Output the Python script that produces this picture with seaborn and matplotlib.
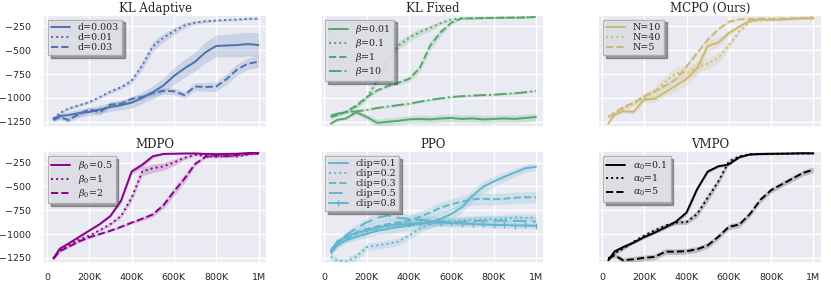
import matplotlib
matplotlib.use("Agg")
import matplotlib.pyplot as plt
import seaborn as sns

# training steps (in thousands)
steps_k = [30, 60, 100, 150, 200, 250, 300, 350, 400, 450, 500,
           550, 600, 650, 700, 750, 800, 850, 900, 950, 1000]

# ---- KL Adaptive ----
kla_labels = ["d=0.003", "d=0.01", "d=0.03"]
kla_d0003 = [-1216, -1190, -1180, -1160, -1147, -1120, -1095, -1075, -1050, -1000, -940,
             -870, -770, -690, -620, -520, -455, -450, -445, -435, -445]
kla_d001 = [-1216, -1160, -1112, -1078, -1043, -990, -933, -888, -820, -660, -460,
            -370, -300, -240, -210, -195, -188, -182, -178, -170, -168]
kla_d003 = [-1233, -1200, -1233, -1170, -1120, -1150, -1070, -1060, -1010, -990, -950,
            -925, -930, -970, -880, -885, -880, -800, -700, -640, -620]
kla_std0003 = [25, 30, 35, 40, 40, 45, 45, 50, 55, 60, 70, 80, 90, 95, 100, 110, 115, 120, 125, 125, 125]
kla_std001 = [15, 15, 15, 15, 15, 15, 20, 20, 30, 45, 50, 45, 40, 30, 20, 15, 12, 10, 10, 10, 10]
kla_std003 = [20, 25, 25, 30, 30, 30, 30, 30, 30, 30, 30, 30, 35, 35, 40, 45, 50, 55, 60, 60, 60]

# ---- KL Fixed ----
klf_labels = [r"$\beta$=0.01", r"$\beta$=0.1", r"$\beta$=1", r"$\beta$=10"]
klf_b001 = [-1268, -1230, -1216, -1150, -1200, -1262, -1250, -1240, -1225, -1220, -1225,
            -1215, -1210, -1220, -1215, -1225, -1220, -1215, -1220, -1210, -1200]
klf_b01 = [-1199, -1170, -1147, -1090, -1000, -810, -600, -450, -370, -310, -265,
           -215, -175, -165, -165, -162, -160, -158, -158, -155, -150]
klf_b1 = [-1199, -1180, -1147, -1080, -990, -920, -875, -840, -800, -690, -450,
          -310, -210, -165, -165, -162, -160, -158, -158, -155, -150]
klf_b10 = [-1185, -1165, -1150, -1140, -1125, -1105, -1090, -1075, -1060, -1040, -1020,
           -1005, -990, -982, -975, -970, -965, -958, -950, -940, -925]
klf_std001 = [15, 15, 15, 20, 30, 40, 40, 40, 40, 40, 40, 40, 40, 40, 40, 40, 40, 40, 40, 40, 40]
klf_std01 = [15, 15, 15, 20, 30, 45, 50, 45, 40, 35, 30, 20, 10, 8, 8, 8, 8, 8, 8, 8, 8]
klf_std1 = [15, 15, 15, 15, 15, 15, 15, 20, 30, 40, 45, 40, 20, 8, 8, 8, 8, 8, 8, 8, 8]
klf_std10 = [12, 12, 12, 12, 12, 12, 12, 12, 12, 12, 12, 12, 12, 12, 12, 12, 12, 12, 12, 12, 12]

# ---- MCPO (Ours) ----
mcpo_labels = ["N=10", "N=40", "N=5"]
mcpo_n10 = [-1268, -1175, -1140, -1145, -1016, -1010, -940, -870, -800, -690, -455,
            -420, -320, -250, -190, -175, -180, -178, -172, -165, -165]
mcpo_n40 = [-1199, -1150, -1112, -1060, -995, -935, -830, -740, -740, -680, -640,
            -580, -450, -300, -200, -185, -180, -175, -170, -165, -160]
mcpo_n5 = [-1199, -1160, -1095, -1050, -981, -930, -871, -802, -670, -530, -390,
           -280, -200, -175, -170, -168, -170, -165, -165, -160, -155]
mcpo_std10 = [15, 20, 20, 25, 30, 35, 40, 60, 70, 70, 60, 50, 30, 15, 10, 10, 10, 10, 10, 10, 10]
mcpo_std40 = [15, 15, 20, 30, 40, 60, 70, 70, 70, 60, 60, 55, 40, 20, 10, 10, 10, 10, 10, 10, 10]
mcpo_std5 = [10, 10, 15, 15, 20, 20, 25, 25, 30, 30, 25, 20, 15, 10, 8, 8, 8, 8, 8, 8, 8]

# ---- MDPO ----
mdpo_labels = [r"$\beta_0$=0.5", r"$\beta_0$=1", r"$\beta_0$=2"]
mdpo_b05 = [-1257, -1154, -1102, -1033, -964, -895, -810, -650, -345, -275, -185,
            -160, -158, -155, -155, -160, -162, -160, -158, -150, -150]
mdpo_b1 = [-1257, -1170, -1119, -1060, -1016, -960, -895, -810, -620, -345, -310,
           -290, -250, -200, -170, -180, -190, -180, -185, -165, -155]
mdpo_b2 = [-1257, -1180, -1137, -1080, -1035, -1000, -965, -925, -880, -840, -795,
           -700, -555, -420, -265, -190, -175, -185, -170, -160, -155]
mdpo_std05 = [15, 12, 10, 10, 10, 10, 15, 25, 30, 30, 20, 10, 8, 8, 8, 8, 8, 8, 8, 8, 8]
mdpo_std1 = [15, 12, 10, 10, 10, 10, 15, 20, 40, 45, 45, 40, 35, 20, 10, 12, 15, 12, 12, 10, 8]
mdpo_std2 = [15, 12, 10, 10, 10, 10, 10, 10, 15, 20, 25, 35, 45, 40, 25, 12, 10, 12, 10, 8, 8]

# ---- PPO ----
ppo_labels = ["clip=0.1", "clip=0.2", "clip=0.3", "clip=0.5", "clip=0.8"]
ppo_c01 = [-1188, -1120, -1068, -1030, -999, -965, -947, -925, -912, -895, -878,
           -840, -790, -720, -600, -505, -450, -400, -355, -310, -295]
ppo_c02 = [-1240, -1275, -1292, -1240, -1137, -1120, -1102, -1080, -1016, -947, -895,
           -870, -861, -855, -850, -845, -843, -840, -826, -830, -826]
ppo_c03 = [-1200, -1110, -1050, -990, -947, -920, -895, -880, -861, -820, -774,
           -723, -688, -660, -636, -630, -636, -630, -619, -615, -615]
ppo_c05 = [-1180, -1100, -1016, -940, -878, -830, -805, -830, -843, -850, -861,
           -870, -878, -870, -865, -860, -860, -860, -862, -865, -870]
ppo_c08 = [-1170, -1080, -1033, -990, -964, -935, -912, -900, -895, -885, -878,
           -880, -885, -890, -895, -900, -905, -905, -912, -910, -915]
ppo_std01 = [30, 30, 30, 35, 40, 45, 50, 55, 60, 60, 60, 60, 60, 60, 60, 60, 55, 50, 45, 40, 40]
ppo_std02 = [30, 35, 40, 40, 40, 40, 40, 40, 40, 40, 40, 40, 40, 40, 40, 40, 40, 40, 40, 40, 40]
ppo_std03 = [30, 35, 40, 45, 50, 50, 50, 55, 55, 55, 60, 60, 60, 60, 60, 60, 60, 60, 60, 60, 60]
ppo_std05 = [30, 35, 40, 40, 45, 45, 50, 50, 50, 50, 50, 50, 50, 50, 50, 50, 50, 50, 50, 50, 50]
ppo_std08 = [25, 25, 30, 30, 30, 30, 30, 30, 30, 30, 30, 30, 30, 30, 30, 30, 30, 30, 30, 30, 30]

# ---- VMPO ----
vmpo_labels = [r"$\alpha_0$=0.1", r"$\alpha_0$=1", r"$\alpha_0$=5"]
vmpo_a01 = [-1275, -1182, -1137, -1090, -1033, -985, -930, -870, -775, -530, -345,
            -290, -270, -195, -165, -160, -158, -157, -155, -152, -153]
vmpo_a1 = [-1257, -1200, -1154, -1080, -1016, -960, -912, -880, -875, -790, -620,
           -450, -240, -185, -165, -162, -160, -158, -156, -155, -155]
vmpo_a5 = [-1257, -1223, -1275, -1265, -1250, -1240, -1185, -1185, -1180, -1160, -1119,
           -1030, -925, -900, -790, -640, -540, -480, -420, -360, -325]
vmpo_std01 = [15, 15, 15, 15, 15, 15, 20, 20, 25, 25, 20, 15, 12, 10, 8, 8, 8, 8, 8, 8, 8]
vmpo_std1 = [15, 15, 15, 15, 15, 15, 20, 20, 25, 35, 40, 35, 25, 12, 8, 8, 8, 8, 8, 8, 8]
vmpo_std5 = [20, 25, 30, 30, 30, 30, 30, 30, 30, 30, 30, 30, 30, 30, 30, 30, 30, 30, 30, 30, 30]

steps = [s * 1000 for s in steps_k]

sns.set_theme(style="darkgrid")
plt.rcParams["mathtext.fontset"] = "dejavuserif"

panels = [
    ("KL Adaptive", "#4c72b0", kla_labels, [kla_d0003, kla_d001, kla_d003],
     [kla_std0003, kla_std001, kla_std003], ["-", ":", "--"]),
    ("KL Fixed", "#55a868", klf_labels, [klf_b001, klf_b01, klf_b1, klf_b10],
     [klf_std001, klf_std01, klf_std1, klf_std10], ["-", ":", "--", "-."]),
    ("MCPO (Ours)", "#ccb974", mcpo_labels, [mcpo_n10, mcpo_n40, mcpo_n5],
     [mcpo_std10, mcpo_std40, mcpo_std5], ["-", ":", "--"]),
    ("MDPO", "#8b008b", mdpo_labels, [mdpo_b05, mdpo_b1, mdpo_b2],
     [mdpo_std05, mdpo_std1, mdpo_std2], ["-", ":", "--"]),
    ("PPO", "#64b5cd", ppo_labels, [ppo_c01, ppo_c02, ppo_c03, ppo_c05, ppo_c08],
     [ppo_std01, ppo_std02, ppo_std03, ppo_std05, ppo_std08],
     ["-", ":", "--", (0, (7, 3)), "-"]),
    ("VMPO", "black", vmpo_labels, [vmpo_a01, vmpo_a1, vmpo_a5],
     [vmpo_std01, vmpo_std1, vmpo_std5], ["-", ":", "--"]),
]

fig, axes = plt.subplots(2, 3, figsize=(8.31, 2.83), dpi=100, sharex=True, sharey=True)
fig.subplots_adjust(left=0.052, right=0.989, top=0.947, bottom=0.072, wspace=0.24, hspace=0.22)

for ax, (title, color, labels, means, stds, styles) in zip(axes.flat, panels):
    for lab, m, s, ls in zip(labels, means, stds, styles):
        marker = "|" if lab == "clip=0.8" else None
        sns.lineplot(x=steps, y=m, ax=ax, color=color, linestyle=ls, linewidth=1.4,
                     marker=marker, markersize=5, markeredgewidth=1.0,
                     markeredgecolor=color, label=lab)
        lo = [a - b for a, b in zip(m, s)]
        hi = [a + b for a, b in zip(m, s)]
        ax.fill_between(steps, lo, hi, color=color, alpha=0.2, linewidth=0)
    ax.set_title(title, family="DejaVu Serif", fontsize=8.5, pad=2)
    ax.legend(loc="upper left", prop={"family": "DejaVu Serif", "size": 6.8},
              shadow=True, frameon=True, framealpha=0.85, edgecolor="#aaaaaa",
              handlelength=2.0, labelspacing=0.1, borderpad=0.35, fancybox=False)
    ax.tick_params(axis="x", labelsize=6.8, pad=1.5)
    ax.tick_params(axis="y", labelsize=6.8, pad=2.5)

axes[0, 0].set_xlim(-18000, 1040000)
axes[0, 0].set_ylim(-1300, -130)
axes[0, 0].set_xticks([0, 200000, 400000, 600000, 800000, 1000000])
axes[0, 0].set_xticklabels(["0", "200K", "400K", "600K", "800K", "1M"])
axes[0, 0].set_yticks([-1250, -1000, -750, -500, -250])

plt.savefig("out.png", dpi=100)
